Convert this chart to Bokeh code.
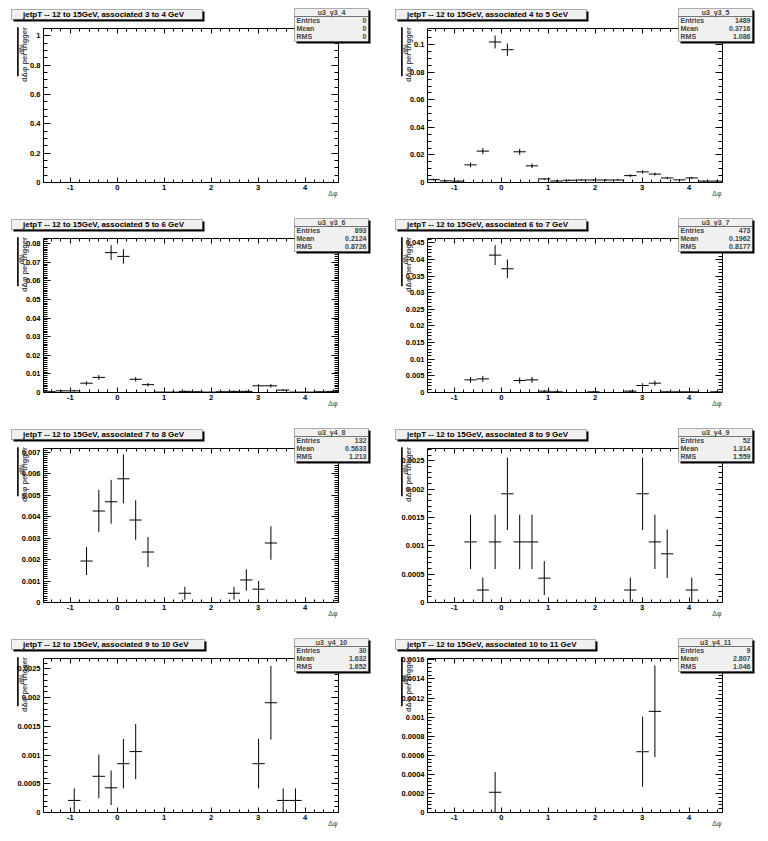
from bokeh.plotting import figure
from bokeh.layouts import gridplot
from bokeh.models import (Label, BoxAnnotation, Range1d, LinearAxis,
                          SingleIntervalTicker, CustomJSTickFormatter, ColumnDataSource)
from bokeh.embed import file_html
from bokeh.resources import INLINE

# ---------------- data ----------------
bin_centers = [-1.4399, -1.1781, -0.9163, -0.6545, -0.3927, -0.1309, 0.1309, 0.3927,
               0.6545, 0.9163, 1.1781, 1.4399, 1.7017, 1.9635, 2.2253, 2.4871,
               2.7489, 3.0107, 3.2725, 3.5343, 3.7961, 4.0579, 4.3197, 4.5815]
bin_half_width = 0.1309

panel_titles = [
    "jetpT -- 12 to 15GeV, associated 3 to 4 GeV",
    "jetpT -- 12 to 15GeV, associated 4 to 5 GeV",
    "jetpT -- 12 to 15GeV, associated 5 to 6 GeV",
    "jetpT -- 12 to 15GeV, associated 6 to 7 GeV",
    "jetpT -- 12 to 15GeV, associated 7 to 8 GeV",
    "jetpT -- 12 to 15GeV, associated 8 to 9 GeV",
    "jetpT -- 12 to 15GeV, associated 9 to 10 GeV",
    "jetpT -- 12 to 15GeV, associated 10 to 11 GeV",
]
hist_names = ["u3_y3_4", "u3_y3_5", "u3_y3_6", "u3_y3_7",
              "u3_y4_8", "u3_y4_9", "u3_y4_10", "u3_y4_11"]
stat_entries = ["0", "1489", "893", "473", "132", "52", "30", "9"]
stat_means = ["0", "0.3716", "0.2124", "0.1962", "0.5633", "1.314", "1.632", "2.807"]
stat_rms = ["0", "1.086", "0.8726", "0.8177", "1.213", "1.559", "1.652", "1.046"]

vals_3_4 = [0, 0, 0, 0, 0, 0, 0, 0, 0, 0, 0, 0, 0, 0, 0, 0, 0, 0, 0, 0, 0, 0, 0, 0]
errs_3_4 = [0, 0, 0, 0, 0, 0, 0, 0, 0, 0, 0, 0, 0, 0, 0, 0, 0, 0, 0, 0, 0, 0, 0, 0]

vals_4_5 = [0.0021, 0.0012, 0.0010, 0.0128, 0.0228, 0.1020, 0.0964, 0.0223,
            0.0121, 0.0026, 0.0011, 0.0016, 0.0018, 0.0018, 0.0018, 0.0018,
            0.0050, 0.0077, 0.0061, 0.0033, 0.0019, 0.0033, 0.0010, 0.0010]
errs_4_5 = [0.0007, 0.0005, 0.0005, 0.0017, 0.0022, 0.0047, 0.0045, 0.0022,
            0.0016, 0.0007, 0.0005, 0.0006, 0.0006, 0.0006, 0.0006, 0.0006,
            0.0010, 0.0013, 0.0011, 0.0008, 0.0006, 0.0008, 0.0005, 0.0005]

vals_5_6 = [0.0004, 0.0009, 0.0009, 0.0050, 0.0081, 0.0751, 0.0731, 0.0071,
            0.0042, 0.0002, 0.0002, 0.0006, 0.0004, 0.0002, 0.0004, 0.0006,
            0.0006, 0.0036, 0.0036, 0.0013, 0.0002, 0.0002, 0.0004, 0.0006]
errs_5_6 = [0.0003, 0.0004, 0.0004, 0.0010, 0.0013, 0.0040, 0.0039, 0.0012,
            0.0009, 0.0002, 0.0002, 0.0004, 0.0003, 0.0002, 0.0003, 0.0004,
            0.0004, 0.0009, 0.0009, 0.0005, 0.0002, 0.0002, 0.0003, 0.0004]

vals_6_7 = [0, 0, 0, 0.0038, 0.0041, 0.0413, 0.0372, 0.0036,
            0.0038, 0.0004, 0.0002, 0, 0, 0.0002, 0, 0,
            0.0004, 0.0021, 0.0028, 0.0002, 0.0002, 0.0002, 0, 0.0002]
errs_6_7 = [0, 0, 0, 0.0009, 0.0009, 0.0030, 0.0028, 0.0009,
            0.0009, 0.0003, 0.0002, 0, 0, 0.0002, 0, 0,
            0.0003, 0.0007, 0.0008, 0.0002, 0.0002, 0.0002, 0, 0.0002]

vals_7_8 = [0, 0, 0, 0.00193, 0.00426, 0.00469, 0.00576, 0.00384,
            0.00235, 0, 0, 0.00043, 0, 0, 0, 0.00043,
            0.00105, 0.00062, 0.00277, 0, 0, 0, 0, 0]
errs_7_8 = [0, 0, 0, 0.00065, 0.00098, 0.00102, 0.00114, 0.00092,
            0.00070, 0, 0, 0.00030, 0, 0, 0, 0.00030,
            0.00050, 0.00038, 0.00078, 0, 0, 0, 0, 0]

vals_8_9 = [0, 0, 0, 0.00107, 0.00022, 0.00107, 0.00192, 0.00107,
            0.00107, 0.00043, 0, 0, 0, 0, 0, 0,
            0.00022, 0.00192, 0.00107, 0.00086, 0, 0.00022, 0, 0]
errs_8_9 = [0, 0, 0, 0.00048, 0.00022, 0.00048, 0.00064, 0.00048,
            0.00048, 0.00030, 0, 0, 0, 0, 0, 0,
            0.00022, 0.00064, 0.00048, 0.00043, 0, 0.00022, 0, 0]

vals_9_10 = [0, 0, 0.00021, 0, 0.00063, 0.00043, 0.00085, 0.00106,
             0, 0, 0, 0, 0, 0, 0, 0,
             0, 0.00085, 0.00191, 0.00021, 0.00021, 0, 0, 0]
errs_9_10 = [0, 0, 0.00021, 0, 0.00038, 0.00030, 0.00043, 0.00048,
             0, 0, 0, 0, 0, 0, 0, 0,
             0, 0.00043, 0.00064, 0.00021, 0.00021, 0, 0, 0]

vals_10_11 = [0, 0, 0, 0, 0, 0.000212, 0, 0,
              0, 0, 0, 0, 0, 0, 0, 0,
              0, 0.000637, 0.00106, 0, 0, 0, 0, 0]
errs_10_11 = [0, 0, 0, 0, 0, 0.000212, 0, 0,
              0, 0, 0, 0, 0, 0, 0, 0,
              0, 0.000368, 0.000480, 0, 0, 0, 0, 0]

panel_values = [vals_3_4, vals_4_5, vals_5_6, vals_6_7, vals_7_8, vals_8_9, vals_9_10, vals_10_11]
panel_errors = [errs_3_4, errs_4_5, errs_5_6, errs_6_7, errs_7_8, errs_8_9, errs_9_10, errs_10_11]

y_max = [1.05, 0.1118, 0.0827, 0.0463, 0.00717, 0.00272, 0.00268, 0.001614]
y_major = [0.2, 0.02, 0.01, 0.005, 0.001, 0.0005, 0.0005, 0.0002]
y_minor = [4, 4, 10, 5, 10, 5, 5, 5]

# ---------------- layout / style ----------------
X_LO, X_HI = -1.5708, 4.7124
FL, FR, FT, FB = 43.0, 338.0, 28.0, 182.0      # inner frame edges inside a pad (px)
FONT = "Liberation Sans"
title_box_right = [202, 202, 202, 202, 202, 202, 204, 211]
PAD_W = 384
row_heights = [210, 210, 210, 210]


def style_axis(ax, interval, nminor, major_len, minor_len, labels):
    ax.ticker = SingleIntervalTicker(interval=interval, num_minor_ticks=nminor)
    if labels:
        ax.formatter = CustomJSTickFormatter(code="return Number(tick.toPrecision(10)).toString();")
    else:
        ax.formatter = CustomJSTickFormatter(code="return '';")
    ax.axis_line_color = "black"
    ax.axis_line_width = 1
    ax.major_tick_in = major_len
    ax.major_tick_out = 0
    ax.minor_tick_in = minor_len
    ax.minor_tick_out = 0
    ax.major_tick_line_color = "black"
    ax.minor_tick_line_color = "black"
    ax.major_label_text_font = FONT
    ax.major_label_text_font_style = "bold"
    ax.major_label_text_font_size = "7.5px"
    ax.major_label_text_color = "black"


def make_panel(i):
    row, col = divmod(i, 2)
    ymax = y_max[i]
    pad_h = row_heights[row]
    sx = (X_HI - X_LO) / (FR - FL)
    sy = ymax / (FB - FT)

    def dx(px):
        return X_LO + (px - FL) * sx

    def dy(py):
        return (FB - py) * sy

    p = figure(width=PAD_W, height=pad_h,
               x_range=Range1d(dx(0), dx(PAD_W)), y_range=Range1d(dy(pad_h), dy(0)),
               x_axis_type=None, y_axis_type=None,
               output_backend="svg", toolbar_location=None, tools="",
               min_border_left=0, min_border_right=0, min_border_top=0, min_border_bottom=0)
    p.background_fill_color = "white"
    p.border_fill_color = "white"
    p.outline_line_color = None
    p.grid.visible = False

    bottom_ax = LinearAxis(fixed_location=0, bounds=(X_LO, X_HI))
    style_axis(bottom_ax, 1, 5, 5, 3, True)
    bottom_ax.major_label_standoff = 2
    p.add_layout(bottom_ax, "below")

    left_ax = LinearAxis(fixed_location=X_LO, bounds=(0, ymax))
    style_axis(left_ax, y_major[i], y_minor[i], 7, 4, True)
    left_ax.major_label_standoff = 3
    p.add_layout(left_ax, "left")

    top_ax = LinearAxis(fixed_location=ymax, bounds=(X_LO, X_HI))
    style_axis(top_ax, 1, 5, 5, 3, False)
    top_ax.major_label_standoff = 0
    p.add_layout(top_ax, "above")

    right_ax = LinearAxis(fixed_location=X_HI, bounds=(0, ymax))
    style_axis(right_ax, y_major[i], y_minor[i], 7, 4, False)
    right_ax.major_label_standoff = 0
    p.add_layout(right_ax, "right")

    # histogram points with errors (non-empty bins only)
    xs, ys, es = [], [], []
    for xc, v, e in zip(bin_centers, panel_values[i], panel_errors[i]):
        if v > 0:
            xs.append(xc); ys.append(v); es.append(e)
    src = ColumnDataSource(dict(
        x=xs, y=ys,
        xl=[x - bin_half_width for x in xs], xr=[x + bin_half_width for x in xs],
        yl=[y - e for y, e in zip(ys, es)], yh=[y + e for y, e in zip(ys, es)]))
    p.segment(x0="xl", x1="xr", y0="y", y1="y", source=src, line_color="black", line_width=1)
    p.segment(x0="x", x1="x", y0="yl", y1="yh", source=src, line_color="black", line_width=1)

    # title box
    tr = title_box_right[i]
    p.add_layout(BoxAnnotation(left=dx(13), right=dx(tr + 2), top=dy(11), bottom=dy(21),
                               fill_color="black", fill_alpha=1, line_color=None))
    p.add_layout(BoxAnnotation(left=dx(11), right=dx(tr), top=dy(9), bottom=dy(19),
                               fill_color="#f0f0f0", fill_alpha=1, line_color="black", line_width=1))
    p.add_layout(Label(x=dx(22.5), y=dy(14.2), text=panel_titles[i], text_font=FONT,
                       text_font_style="bold", text_font_size="8px", text_color="black",
                       text_align="left", text_baseline="middle"))

    # stats box
    p.add_layout(BoxAnnotation(left=dx(296), right=dx(370), top=dy(10), bottom=dy(43),
                               fill_color="black", fill_alpha=1, line_color=None))
    p.add_layout(BoxAnnotation(left=dx(294), right=dx(368), top=dy(8), bottom=dy(41),
                               fill_color="#f0f0f0", fill_alpha=1, line_color="black", line_width=1))
    p.add_layout(BoxAnnotation(left=dx(294), right=dx(368), top=dy(16), bottom=dy(16),
                               fill_alpha=0, line_color="black", line_width=1))
    p.add_layout(Label(x=dx(331), y=dy(12), text=hist_names[i], text_font=FONT,
                       text_font_style="bold", text_font_size="7px", text_align="center",
                       text_baseline="middle"))
    for lab, val, yy in (("Entries", stat_entries[i], 19.8),
                         ("Mean", stat_means[i], 28.0),
                         ("RMS", stat_rms[i], 36.2)):
        p.add_layout(Label(x=dx(296), y=dy(yy), text=lab, text_font=FONT,
                           text_font_style="bold", text_font_size="7px", text_align="left",
                           text_baseline="middle"))
        p.add_layout(Label(x=dx(366), y=dy(yy), text=val, text_font=FONT,
                           text_font_style="bold", text_font_size="7px", text_align="right",
                           text_baseline="middle"))

    # y axis title (fraction, rotated)
    p.add_layout(BoxAnnotation(left=dx(16.6), right=dx(18.2), top=dy(26.7), bottom=dy(75.7),
                               fill_color="black", fill_alpha=1, line_color=None))
    p.add_layout(Label(x=dx(20.6), y=dy(49), text="dN", angle=1.5708, text_font=FONT,
                       text_font_style="bold", text_font_size="7px", text_align="center",
                       text_baseline="middle"))
    p.add_layout(Label(x=dx(23.9), y=dy(54), text="d\u0394\u03c6 per trigger", angle=1.5708,
                       text_font=FONT, text_font_style="bold", text_font_size="7.5px",
                       text_align="center", text_baseline="middle"))
    # x axis title
    p.add_layout(Label(x=dx(337), y=dy(193), text="\u0394\u03c6", text_font=FONT,
                       text_font_size="7px", text_color="#444444", text_align="right",
                       text_baseline="middle"))
    return p


panels = [make_panel(i) for i in range(8)]
grid = gridplot([[panels[0], panels[1]], [panels[2], panels[3]],
                 [panels[4], panels[5]], [panels[6], panels[7]]],
                toolbar_location=None)

open("out.html", "w").write(file_html(grid, INLINE))
